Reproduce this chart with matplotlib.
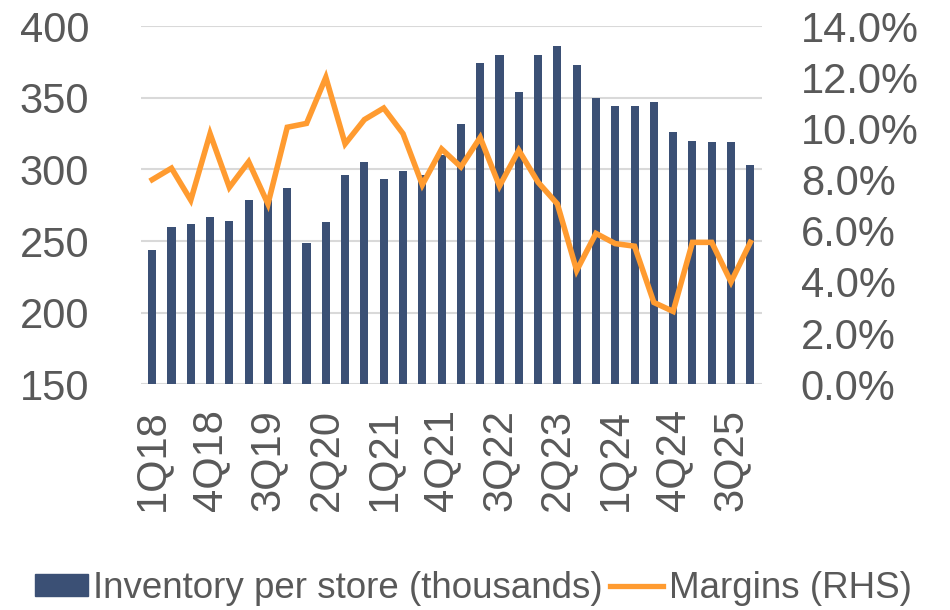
import matplotlib
matplotlib.use("Agg")
import matplotlib.pyplot as plt
from matplotlib.patches import Patch
from matplotlib.lines import Line2D
import numpy as np

plt.rcParams['font.family'] = ['Liberation Sans', 'DejaVu Sans']

quarters = [f"{q}Q{y}" for y in range(18, 26) for q in range(1, 5)]
inventory = [244, 260, 262, 267, 264, 279, 279, 287, 249, 263, 296, 305,
             293, 299, 296, 310, 332, 374, 380, 354, 380, 386, 373, 350,
             344, 344, 347, 326, 320, 319, 319, 303]
margins = [8.0, 8.45, 7.2, 9.8, 7.7, 8.7, 7.05, 10.05, 10.2, 12.0, 9.4, 10.35,
           10.8, 9.8, 7.8, 9.2, 8.5, 9.65, 7.75, 9.15, 7.9, 7.05, 4.45, 5.9,
           5.5, 5.4, 3.2, 2.85, 5.55, 5.55, 4.0, 5.55]
left_ticks = [150, 200, 250, 300, 350, 400]
right_ticks = [0, 2, 4, 6, 8, 10, 12, 14]

bar_color = '#3B5075'
line_color = '#FF9B30'
text_color = '#595959'
grid_color = '#D9D9D9'

fig = plt.figure(figsize=(9.5, 6.1), dpi=100)
ax = fig.add_axes([0.148, 0.370, 0.654, 0.587])
x = np.arange(len(quarters))
ax.bar(x, inventory, width=0.42, color=bar_color, zorder=2)
ax.set_ylim(150, 400)
ax.set_yticks(left_ticks)
ax.set_xlim(-0.6, len(quarters) - 0.4)
ax.yaxis.grid(True, color=grid_color, linewidth=1.5, zorder=0)
ax.set_axisbelow(True)
for s in ax.spines.values():
    s.set_visible(False)
ax.tick_params(axis='both', length=0, labelsize=30, labelcolor=text_color)
ax.tick_params(axis='y', pad=37)
ax.set_xticks(x[::3])
ax.set_xticklabels(quarters[::3], rotation=90, fontsize=30, color=text_color)
ax.tick_params(axis='x', pad=18)

ax2 = ax.twinx()
ax2.plot(x, margins, color=line_color, linewidth=4, solid_joinstyle='miter', zorder=3)
ax2.set_ylim(0, 14)
ax2.set_yticks(right_ticks)
ax2.set_yticklabels([f"{v:.1f}%" for v in right_ticks])
for s in ax2.spines.values():
    s.set_visible(False)
ax2.tick_params(axis='y', length=0, labelsize=30, labelcolor=text_color, pad=28)

handles = [Patch(color=bar_color), Line2D([0], [0], color=line_color, linewidth=3.8)]
labels = ['Inventory per store (thousands)', 'Margins (RHS)']
fig.legend(handles, labels, loc='center', bbox_to_anchor=(0.498, 0.035), ncol=2,
           frameon=False, fontsize=26.5, labelcolor=text_color, handlelength=1.44,
           handleheight=0.57, handletextpad=0.15, columnspacing=0.2)

fig.savefig('out.png', dpi=100)
